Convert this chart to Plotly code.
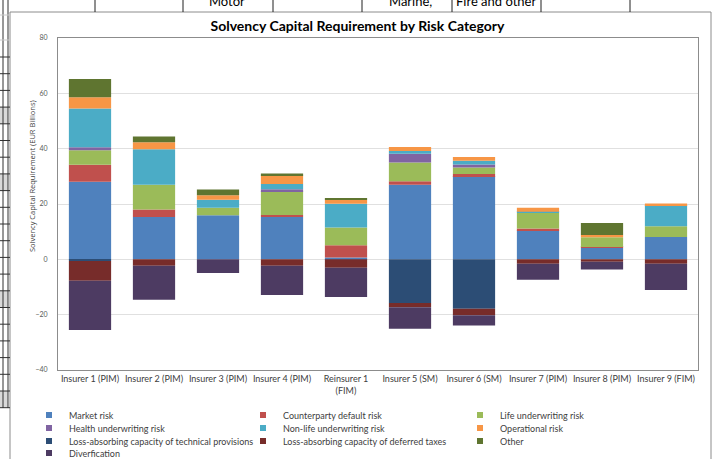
import plotly.graph_objects as go

# ---------------- data ----------------
categories = ["Insurer 1 (PIM)", "Insurer 2 (PIM)", "Insurer 3 (PIM)", "Insurer 4 (PIM)",
              "Reinsurer 1<br>(FIM)", "Insurer 5 (SM)", "Insurer 6 (SM)", "Insurer 7 (PIM)",
              "Insurer 8 (PIM)", "Insurer 9 (FIM)"]

market_risk          = [28.0, 15.3, 15.9, 15.3, 0.7, 27.0, 30.1, 10.5, 4.2, 8.1]
counterparty_default = [6.2, 2.7, None, 0.7, 4.4, 1.2, 0.7, 0.6, 0.3, None]
life_underwriting    = [5.2, 9.0, 2.7, 8.6, 6.4, 6.8, 2.4, 5.7, 3.5, 3.9]
health_underwriting  = [1.1, None, None, 0.7, None, 3.2, 1.1, None, None, None]
nonlife_underwriting = [14.0, 12.8, 2.9, 1.9, 8.6, 1.0, 1.3, 0.4, None, 7.6]
operational_risk     = [4.1, 2.5, 1.7, 3.1, 1.4, 1.4, 1.4, 1.4, 0.8, 0.6]
lac_technical_prov   = [-0.6, None, None, None, None, -15.8, -17.9, None, None, None]
lac_deferred_taxes   = [-7.1, -2.3, None, -2.3, -3.0, -1.5, -2.3, -1.6, -0.9, -1.6]
other_risk           = [6.6, 2.1, 2.0, 0.7, 0.5, None, None, None, 4.3, None]
diversification      = [-17.8, -12.3, -4.9, -10.6, -10.6, -7.8, -3.7, -5.8, -2.8, -9.5]

series_names = ["Market risk", "Counterparty default risk", "Life underwriting risk",
                "Health underwriting risk", "Non-life underwriting risk", "Operational risk",
                "Loss-absorbing capacity of technical provisions",
                "Loss-absorbing capacity of deferred taxes", "Other", "Diverfication"]
series_values = [market_risk, counterparty_default, life_underwriting, health_underwriting,
                 nonlife_underwriting, operational_risk, lac_technical_prov,
                 lac_deferred_taxes, other_risk, diversification]
series_colors = ["#4F81BD", "#C0504D", "#9BBB59", "#8064A2", "#4BACC6", "#F79646",
                 "#2C4D75", "#772C2A", "#5F7530", "#4D3B62"]

y_ticks = [-40, -20, 0, 20, 40, 60, 80]

# ---------------- layout helpers (pixel -> paper) ----------------
W, H = 715, 459
ML, MR, MT, MB = 58, 17, 38, 89
PW, PH = W - ML - MR, H - MT - MB


def X(px):
    return (px - ML) / PW


def Y(py):
    return (H - MB - py) / PH


FONT = "Lato"

fig = go.Figure()
for name, vals, col in zip(series_names, series_values, series_colors):
    fig.add_trace(go.Bar(x=categories, y=vals, name=name, marker_color=col,
                         marker_line_width=0, showlegend=False, legendgroup=name))

# legend: one small legend per entry (3 columns x 4 rows)
col_text_px = [69, 283, 500]
row_py = [416, 429, 442, 454]
layout_legends = {}
for i, (name, col) in enumerate(zip(series_names, series_colors)):
    r, c = divmod(i, 3)
    key = "legend" if i == 0 else f"legend{i + 1}"
    fig.add_trace(go.Scatter(x=[categories[0]], y=[None], mode="markers", name=name,
                             marker=dict(symbol="square", size=6, color=col),
                             legend=key, legendgroup=name, showlegend=True,
                             hoverinfo="skip"))
    layout_legends[key] = dict(
        xref="container", yref="container", orientation="h",
        x=(col_text_px[c] - 40) / W, y=1 - (row_py[r] - 1) / H,
        xanchor="left", yanchor="middle",
        bgcolor="rgba(0,0,0,0)", borderwidth=0,
        font=dict(family=FONT, size=9, color="#404040"),
        itemclick=False, itemdoubleclick=False,
    )

shapes = []
# chart area border
shapes.append(dict(type="rect", xref="paper", yref="paper", x0=X(10), x1=X(711),
                   y0=Y(472), y1=Y(12), line=dict(color="#8C8C8C", width=1),
                   fillcolor="rgba(0,0,0,0)", layer="below"))
# spreadsheet cells above the chart
for px in [95, 183, 273, 362, 452, 541, 630]:
    shapes.append(dict(type="line", xref="paper", yref="paper", x0=X(px), x1=X(px),
                       y0=Y(12), y1=Y(0), line=dict(color="#202020", width=1)))
# spreadsheet cells left of the chart
for px in [3, 8]:
    shapes.append(dict(type="line", xref="paper", yref="paper", x0=X(px), x1=X(px),
                       y0=Y(408), y1=Y(0), line=dict(color="#303030", width=1)))
for k in range(22):
    py = 57 + k * 16.7
    shapes.append(dict(type="line", xref="paper", yref="paper", x0=X(0), x1=X(10),
                       y0=Y(py), y1=Y(py), line=dict(color="#303030", width=1)))
for py in [15, 40]:
    shapes.append(dict(type="line", xref="paper", yref="paper", x0=X(0), x1=X(10),
                       y0=Y(py), y1=Y(py), line=dict(color="#C8C8C8", width=1)))
for k in [3, 7, 14, 20]:
    py = 57 + k * 16.7
    shapes.append(dict(type="rect", xref="paper", yref="paper", x0=X(0), x1=X(8),
                       y0=Y(py + 16.7), y1=Y(py), line=dict(width=0),
                       fillcolor="#D9D9D9", layer="below"))

annotations = [
    dict(text="Solvency Capital Requirement (EUR Billions)", xref="paper", yref="paper",
         x=X(32), y=Y(176), textangle=-90, showarrow=False,
         xanchor="center", yanchor="middle",
         font=dict(family="Open Sans", size=7.5, color="#404040")),
    dict(text="Motor", xref="paper", yref="paper", x=X(227), y=Y(1), showarrow=False,
         xanchor="center", yanchor="middle",
         font=dict(family=FONT, size=13, color="#000000")),
    dict(text="Marine,", xref="paper", yref="paper", x=X(410), y=Y(1), showarrow=False,
         xanchor="center", yanchor="middle",
         font=dict(family=FONT, size=13, color="#000000")),
    dict(text="Fire and other", xref="paper", yref="paper", x=X(496), y=Y(1), showarrow=False,
         xanchor="center", yanchor="middle",
         font=dict(family=FONT, size=13, color="#000000")),
]

fig.update_layout(
    width=W, height=H,
    margin=dict(l=ML, r=MR, t=MT, b=MB, pad=0, autoexpand=False),
    paper_bgcolor="white", plot_bgcolor="white",
    barmode="relative", bargap=0.34,
    title=dict(text="<b>Solvency Capital Requirement by Risk Category</b>",
               xref="container", yref="container", x=0.5, y=1 - 26 / H,
               xanchor="center", yanchor="middle",
               font=dict(family=FONT, size=14, color="#000000")),
    font=dict(family=FONT),
    shapes=shapes,
    annotations=annotations,
    **layout_legends,
)
fig.update_xaxes(type="category", categoryorder="array", categoryarray=categories,
                 range=[-0.5, len(categories) - 0.5], automargin=False,
                 showgrid=False, ticks="", showline=True, mirror=True,
                 linecolor="#8C8C8C", linewidth=1,
                 tickfont=dict(family=FONT, size=9, color="#404040"), fixedrange=True)
fig.update_yaxes(range=[-40, 80], tickvals=y_ticks, ticks="", showgrid=True,
                 gridcolor="#E0E0E0", gridwidth=1, zeroline=True, zerolinecolor="#E0E0E0",
                 zerolinewidth=1, showline=True, mirror=True, linecolor="#8C8C8C",
                 linewidth=1, ticklabelstandoff=8, automargin=False,
                 tickfont=dict(family=FONT, size=7, color="#595959"), fixedrange=True)

fig.write_html("out.html", config={"displayModeBar": False},
               post_script="document.body.style.margin='0';")
